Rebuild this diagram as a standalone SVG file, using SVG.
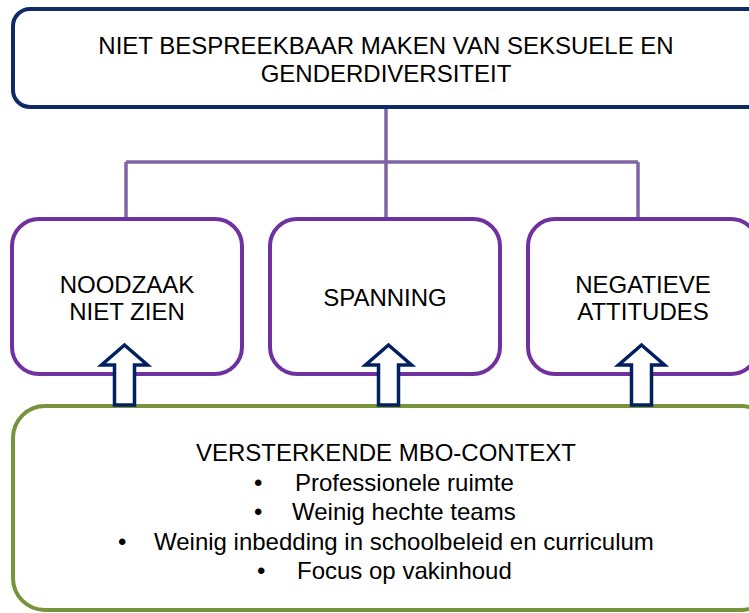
<svg xmlns="http://www.w3.org/2000/svg" width="749" height="613" viewBox="0 0 749 613">
<style>
text{font-family:"Liberation Sans",Arial,sans-serif;font-size:24px;fill:#000}
.c{text-anchor:middle}
.top{fill:#fff;stroke:#0f2a66;stroke-width:4}
.mid{fill:#fff;stroke:#7030a0;stroke-width:4}
.ctx{fill:#fff;stroke:#77933c;stroke-width:4}
.conn{fill:none;stroke:#8064a2;stroke-width:3.5}
.arr{fill:#fff;stroke:#002060;stroke-width:3.5;stroke-linejoin:miter}
</style>
<defs>
<path id="arrow" d="M0,345 L23,365 L10,365 L10,405 L-10,405 L-10,365 L-23,365 Z"/>
</defs>
<g id="connectors">
<path class="conn" d="M386,108 V219 M126,162 H638 M126,162 V219 M638,162 V219"/>
</g>
<g id="node-top">
<rect class="top" x="13" y="9" width="760" height="98" rx="17"/>
<text class="c" x="386" y="54">NIET BESPREEKBAAR MAKEN VAN SEKSUELE EN</text>
<text class="c" x="386" y="82">GENDERDIVERSITEIT</text>
</g>
<g id="node-noodzaak">
<rect class="mid" x="12" y="219" width="230" height="155" rx="27"/>
<text class="c" x="127" y="293">NOODZAAK</text>
<text class="c" x="127" y="320">NIET ZIEN</text>
</g>
<g id="node-spanning">
<rect class="mid" x="270" y="219" width="230" height="155" rx="27"/>
<text class="c" x="385" y="306">SPANNING</text>
</g>
<g id="node-negatieve">
<rect class="mid" x="528" y="219" width="230" height="155" rx="27"/>
<text class="c" x="643" y="293">NEGATIEVE</text>
<text class="c" x="643" y="320">ATTITUDES</text>
</g>
<g id="node-context">
<rect class="ctx" x="13" y="406" width="760" height="204" rx="32"/>
<text class="c" x="386" y="461">VERSTERKENDE MBO-CONTEXT</text>
<text x="254" y="491">•</text><text x="295" y="491">Professionele ruimte</text>
<text x="254" y="520">•</text><text x="292" y="520">Weinig hechte teams</text>
<text x="118" y="550">•</text><text x="154" y="550">Weinig inbedding in schoolbeleid en curriculum</text>
<text x="257" y="579">•</text><text x="297" y="579">Focus op vakinhoud</text>
</g>
<g id="arrows">
<use href="#arrow" class="arr" x="124.5"/>
<use href="#arrow" class="arr" x="388.5"/>
<use href="#arrow" class="arr" x="641.5"/>
</g>
</svg>
